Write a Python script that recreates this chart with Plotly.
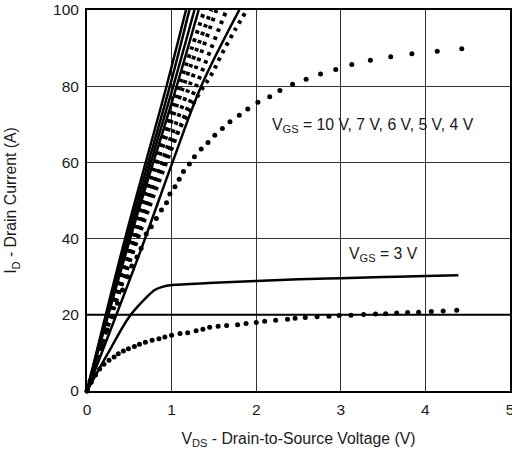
import plotly.graph_objects as go

# ---- data ----
# solid curves (VGS = 10, 7, 6, 5, 4 V)
s10_v = [0, 0.45, 0.94, 1.17]; s10_i = [0, 40, 80, 100]
s7_v = [0, 0.47, 0.98, 1.21];  s7_i = [0, 40, 80, 100]
s6_v = [0, 0.49, 1.02, 1.27];  s6_i = [0, 40, 80, 100]
s5_v = [0, 0.51, 1.06, 1.32];  s5_i = [0, 40, 80, 100]
s4_v = [0, 0.62, 1.02, 1.35, 1.80]; s4_i = [0, 36, 60.6, 80, 100]

# dotted curves in the steep group
d10_v = [0, 0.52, 1.09, 1.39]; d10_i = [0, 40, 80, 100]
d7_v = [0, 0.54, 1.14, 1.47];  d7_i = [0, 40, 80, 100]
d6_v = [0, 0.57, 1.21, 1.53];  d6_i = [0, 40, 80, 100]
d5_v = [0, 0.60, 1.29, 1.65];  d5_i = [0, 40, 80, 100]
d4a_v = [0, 0.55, 0.90, 1.33, 1.47, 1.59, 1.75, 1.89]
d4a_i = [0, 38, 60, 78.2, 83.0, 88.3, 94.8, 100]

# dotted 4 V curve that saturates near 90 A (one value per dot)
d4_v = [0, 0.06, 0.12, 0.18, 0.24, 0.30, 0.36, 0.42, 0.48, 0.53,
        0.59, 0.64, 0.70, 0.76, 0.82, 0.88, 0.94, 0.98, 1.04, 1.09,
        1.14, 1.21, 1.27, 1.35, 1.43, 1.51, 1.60, 1.69, 1.80, 1.90,
        2.02, 2.16, 2.28, 2.43, 2.59, 2.76, 2.94, 3.13, 3.35, 3.59,
        3.84, 4.14, 4.43]
d4_i = [0, 4, 8, 12, 16, 19.5, 23, 26.5, 30, 32.8,
        35.2, 37.5, 41.2, 43.1, 45.3, 47.5, 49.4, 51.7, 53.6, 55.6,
        57.6, 59.6, 61.5, 63.5, 65.2, 67.1, 68.9, 70.7, 72.4, 74.0,
        75.8, 77.2, 78.9, 80.5, 81.8, 83.2, 84.4, 85.7, 86.8, 87.7,
        88.5, 89.2, 89.8]

# VGS = 3 V, solid
s3_v = [0, 0.25, 0.5, 0.7, 0.8, 0.9, 1.0, 1.5, 2.0, 2.5, 3.0, 3.5, 4.0, 4.39]
s3_i = [0, 10, 19.5, 24.5, 26.5, 27.4, 27.8, 28.4, 28.9, 29.3, 29.6, 29.9, 30.2, 30.4]

# VGS = 3 V, dotted (one value per dot)
d3_v = [0, 0.05, 0.10, 0.15, 0.20, 0.26, 0.32, 0.37, 0.43, 0.49,
        0.56, 0.62, 0.69, 0.77, 0.85, 0.92, 1.00, 1.10, 1.19, 1.29,
        1.37, 1.45, 1.55, 1.65, 1.78, 1.88, 2.00, 2.10, 2.23, 2.37,
        2.46, 2.58, 2.72, 2.86, 2.98, 3.12, 3.27, 3.41, 3.53, 3.66,
        3.79, 3.92, 4.07, 4.21, 4.37]
d3_i = [0, 2.3, 4.2, 5.8, 7.0, 8.1, 8.9, 9.8, 10.5, 11.1,
        11.7, 12.3, 12.8, 13.3, 13.7, 14.2, 14.6, 15.1, 15.3, 15.8,
        16.2, 16.7, 17.0, 17.2, 17.4, 17.7, 18.0, 18.3, 18.6, 18.8,
        19.1, 19.3, 19.5, 19.6, 19.8, 19.9, 20.1, 20.2, 20.3, 20.5,
        20.6, 20.7, 20.85, 21.0, 21.2]

x_ticks = [0, 1, 2, 3, 4, 5]
y_ticks = [0, 20, 40, 60, 80, 100]

label_main = "V<sub>GS</sub> = 10 V, 7 V, 6 V, 5 V, 4 V"
label_main_pos = (3.38, 69.8)
label_3v = "V<sub>GS</sub> = 3 V"
label_3v_pos = (3.5, 35.7)

FONT = "Liberation Sans, Arial, sans-serif"
INK = "#1a1a1a"

fig = go.Figure()

solid = [(s10_v, s10_i), (s7_v, s7_i), (s6_v, s6_i), (s5_v, s5_i), (s4_v, s4_i)]
dotted = [(d10_v, d10_i), (d7_v, d7_i), (d6_v, d6_i), (d5_v, d5_i), (d4a_v, d4a_i)]

for v, i in dotted:
    fig.add_trace(go.Scatter(x=v, y=i, mode="lines",
                             line=dict(color="black", width=4, dash="3.5px,5px", shape="spline"),
                             hoverinfo="skip"))
for v, i in solid:
    fig.add_trace(go.Scatter(x=v, y=i, mode="lines",
                             line=dict(color="black", width=2.5, shape="spline"),
                             hoverinfo="skip"))

fig.add_trace(go.Scatter(x=s3_v, y=s3_i, mode="lines",
                         line=dict(color="black", width=2.5, shape="spline"),
                         hoverinfo="skip"))
for v, i in [(d4_v, d4_i), (d3_v, d3_i)]:
    fig.add_trace(go.Scatter(x=v, y=i, mode="markers",
                             marker=dict(color="black", size=5, line=dict(width=0)),
                             cliponaxis=False, hoverinfo="skip"))

fig.add_annotation(x=label_main_pos[0], y=label_main_pos[1], text=label_main,
                   showarrow=False, font=dict(family=FONT, size=15.8, color=INK))
fig.add_annotation(x=label_3v_pos[0], y=label_3v_pos[1], text=label_3v,
                   showarrow=False, font=dict(family=FONT, size=15.8, color=INK))

# heavier reference line at 20 A
fig.add_shape(type="line", xref="paper", x0=0, x1=1, yref="y", y0=20, y1=20,
              line=dict(color="black", width=2), layer="above")

fig.update_layout(
    width=512, height=451,
    margin=dict(l=87, r=2, t=10, b=60, autoexpand=False),
    paper_bgcolor="white", plot_bgcolor="white",
    showlegend=False,
    font=dict(family=FONT, size=15.5, color=INK),
)
fig.update_xaxes(range=[0, 5], tickvals=x_ticks, ticktext=[str(t) for t in x_ticks],
                 showgrid=True, gridcolor="#333333", gridwidth=1,
                 showline=True, linecolor="black", linewidth=2, mirror=True,
                 zeroline=False, ticks="", ticklabelstandoff=3, automargin=False,
                 ticklabeloverflow="allow",
                 tickfont=dict(family=FONT, size=15.5, color=INK),
                 title=dict(text="V<sub>DS</sub> - Drain-to-Source Voltage (V)",
                            font=dict(family=FONT, size=15.8, color=INK), standoff=16))
fig.update_yaxes(range=[0, 100], tickvals=y_ticks, ticktext=[str(t) for t in y_ticks],
                 showgrid=True, gridcolor="#333333", gridwidth=1,
                 showline=True, linecolor="black", linewidth=2, mirror=True,
                 zeroline=False, ticks="", ticklabelstandoff=3, automargin=False,
                 ticklabeloverflow="allow",
                 tickfont=dict(family=FONT, size=15.5, color=INK),
                 title=dict(text="I<sub>D</sub> - Drain Current (A)",
                            font=dict(family=FONT, size=15.8, color=INK), standoff=32))

# the page body has a default 8 px margin; remove it so the figure sits at the
# window's top-left corner like the reference
fig.write_html("out.html", config={"displayModeBar": False, "staticPlot": True},
               post_script="document.body.style.margin='0';")
